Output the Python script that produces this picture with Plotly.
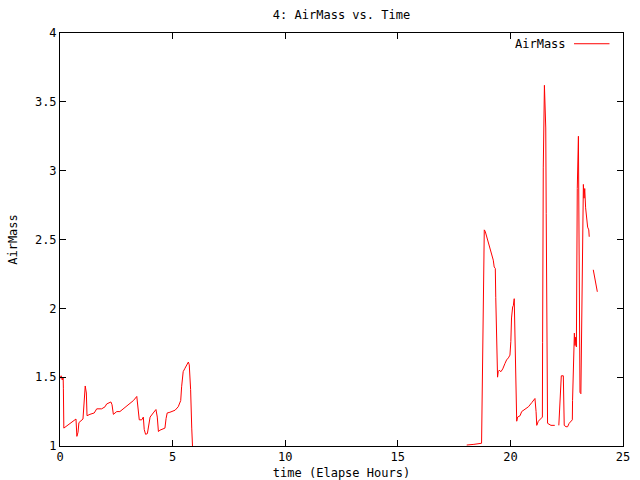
import plotly.graph_objects as go

# elapsed time (hours) and air mass; None marks gaps in the record
time_hours = [
    0.0, 0.05, 0.1, 0.14, 0.15, 0.16, 0.17, 0.71, 0.75, 0.80, 0.84, 1.02, 1.05, 1.10, 1.12,
    1.17, 1.20, 1.33, 1.52, 1.63, 1.85, 2.0, 2.07, 2.26, 2.31, 2.37, 2.52, 2.66, 2.81,
    2.96, 3.11, 3.26, 3.41, 3.43, 3.48, 3.52, 3.63, 3.70, 3.74, 3.80, 3.88, 3.94, 4.0,
    4.14, 4.26, 4.32, 4.37, 4.44, 4.66, 4.71, 4.76, 4.88, 5.11, 5.25, 5.36, 5.40, 5.47,
    5.55, 5.70, 5.74, 5.80, 5.85, 5.91,
    None,
    18.06, 18.2, 18.38, 18.72, 18.75, 18.79, 18.84, 18.88, 18.95, 19.02, 19.09, 19.17,
    19.24, 19.28, 19.33, 19.35, 19.39, 19.43, 19.46, 19.50, 19.58, 19.66, 19.76, 19.83,
    19.91, 19.98, 20.02, 20.05, 20.10, 20.13, 20.17, 20.20, 20.23, 20.28, 20.32, 20.43,
    20.50, 20.65, 20.80, 20.95, 21.09, 21.14, 21.17, 21.24, 21.31, 21.42, 21.43, 21.46,
    21.51, 21.52, 21.54, 21.57, 21.59, 21.62, 21.65, 21.80, 21.97,
    None,
    22.15, 22.17, 22.23, 22.26, 22.35, 22.36, 22.39, 22.47, 22.54, 22.61, 22.69, 22.75,
    22.76, 22.80, 22.84, 22.87, 22.90, 22.93, 22.94, 22.97, 23.02, 23.03, 23.06, 23.09,
    23.13, 23.16, 23.19, 23.24, 23.27, 23.30, 23.34, 23.39, 23.43, 23.48, 23.50,
    None,
    23.68, 23.72, 23.79, 23.86,
]
air_mass = [
    1.49, 1.51, 1.48, 1.50, 1.42, 1.225, 1.13, 1.196, 1.07, 1.10, 1.17, 1.196, 1.26, 1.385, 1.436,
    1.385, 1.22, 1.23, 1.24, 1.27, 1.27, 1.285, 1.305, 1.32, 1.30, 1.23, 1.25, 1.25, 1.27,
    1.29, 1.31, 1.33, 1.36, 1.33, 1.285, 1.19, 1.19, 1.21, 1.12, 1.085, 1.09, 1.165, 1.21,
    1.24, 1.265, 1.21, 1.105, 1.115, 1.13, 1.20, 1.24, 1.245, 1.26, 1.285, 1.33, 1.43, 1.54,
    1.565, 1.61, 1.59, 1.41, 1.13, 0.90,
    None,
    1.007, 1.007, 1.012, 1.02, 1.41, 2.18, 2.57, 2.56, 2.52, 2.47, 2.44, 2.39,
    2.35, 2.30, 2.29, 2.08, 1.70, 1.50, 1.54, 1.55, 1.54, 1.56, 1.60, 1.625,
    1.64, 1.66, 1.76, 1.93, 2.01, 2.02, 2.07, 1.84, 1.39, 1.18, 1.21, 1.22,
    1.25, 1.27, 1.285, 1.315, 1.345, 1.25, 1.15, 1.18, 1.19, 1.21, 1.75, 3.02,
    3.62, 3.51, 3.37, 3.31, 2.69, 1.68, 1.165, 1.15, 1.15,
    None,
    1.15, 1.24, 1.42, 1.51, 1.51, 1.33, 1.15, 1.14, 1.14, 1.165, 1.18, 1.19,
    1.33, 1.66, 1.82, 1.73, 1.79, 1.72, 2.10, 2.87, 3.25, 2.79, 1.84, 1.39,
    1.38, 1.76, 2.52, 2.90, 2.80, 2.87, 2.73, 2.67, 2.59, 2.57, 2.52,
    None,
    2.28, 2.25, 2.18, 2.12,
]

x_ticks = [0, 5, 10, 15, 20, 25]
y_ticks = [1, 1.5, 2, 2.5, 3, 3.5, 4]
y_tick_labels = ["1", "1.5", "2", "2.5", "3", "3.5", "4"]

FONT = "DejaVu Sans Mono"
FS = 12

fig = go.Figure()
fig.add_trace(go.Scatter(
    x=time_hours, y=air_mass, mode="lines", name="AirMass",
    line=dict(color="#ff0000", width=1), connectgaps=False, showlegend=False,
))

fig.update_layout(
    width=640, height=480,
    margin=dict(l=60, r=17, t=33, b=34, autoexpand=False),
    paper_bgcolor="white", plot_bgcolor="white",
    font=dict(family=FONT, size=FS, color="black"),
    title=dict(text="4: AirMass vs. Time", xref="paper", x=0.5, xanchor="center",
               y=1 - 15 / 480, yanchor="middle", font=dict(family=FONT, size=FS)),
    xaxis=dict(
        range=[0, 25], tickvals=x_ticks, ticks="inside", ticklen=6, tickcolor="black",
        showline=True, linecolor="black", linewidth=1, mirror="ticks",
        showgrid=False, zeroline=False, automargin=False,
        title=dict(text="time (Elapse Hours)", standoff=6, font=dict(family=FONT, size=FS)),
    ),
    yaxis=dict(
        range=[1, 4], tickvals=y_ticks, ticktext=y_tick_labels, ticks="inside", ticklen=6,
        tickcolor="black", showline=True, linecolor="black", linewidth=1, mirror="ticks",
        showgrid=False, zeroline=False, automargin=False,
        title=dict(text="AirMass", standoff=14, font=dict(family=FONT, size=FS)),
    ),
)

# gnuplot-style key: label followed by the line sample, top right
fig.add_annotation(text="AirMass", xref="paper", yref="paper", x=0.902, y=0.974,
                   xanchor="right", yanchor="middle", showarrow=False,
                   font=dict(family=FONT, size=FS))
fig.add_shape(type="line", xref="paper", yref="paper", x0=0.913, x1=0.976,
              y0=0.974, y1=0.974, line=dict(color="#ff0000", width=1))

fig.write_html("out.html", config={"displayModeBar": False},
               post_script="document.body.style.margin='0px';")
